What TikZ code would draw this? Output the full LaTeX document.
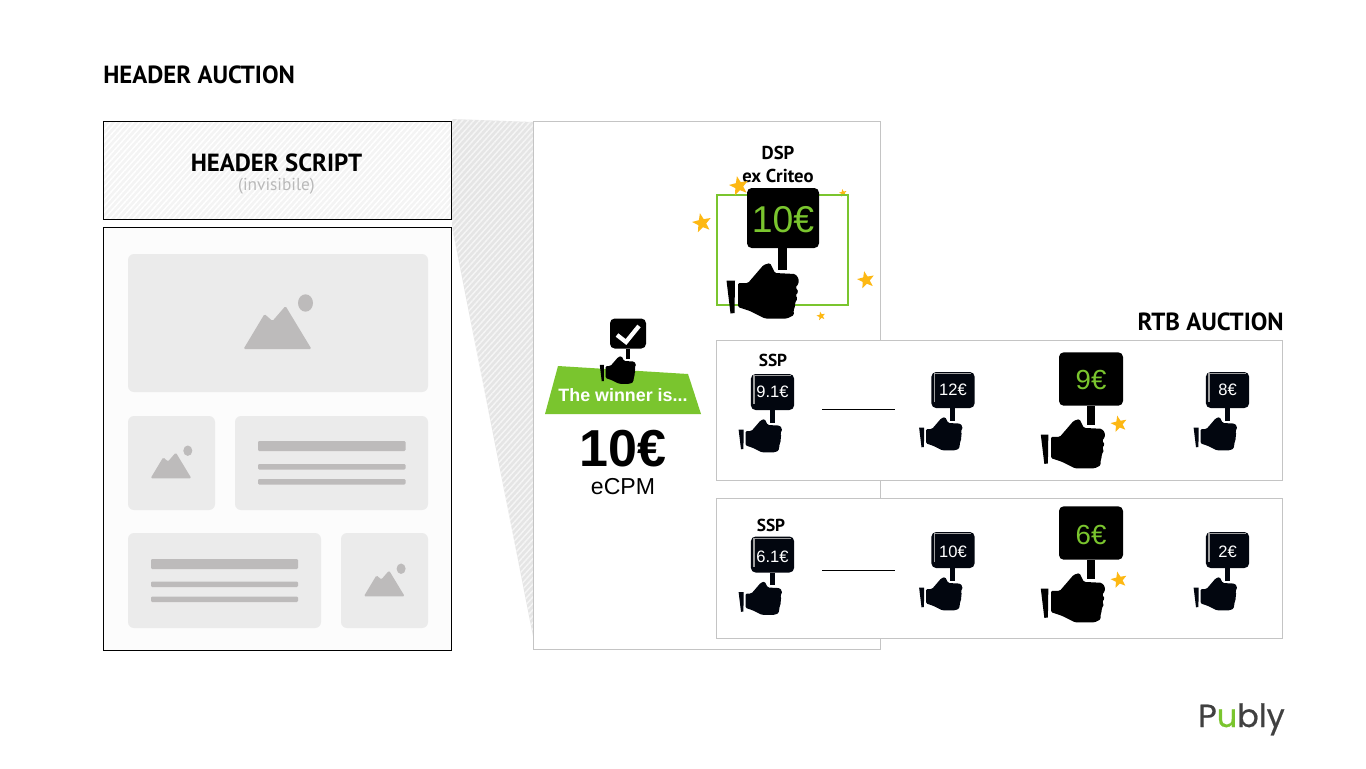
\documentclass[tikz,border=0pt]{standalone}
\usepackage{fontspec}
\setmainfont{Liberation Sans}
\newfontfamily\titlefont{PT Sans}
\newfontfamily\logofont[FakeBold=0.6]{Poppins}
\usetikzlibrary{patterns.meta}
\definecolor{pubgreen}{RGB}{122,197,46}
\definecolor{starcol}{RGB}{253,184,19}
\definecolor{boxline}{RGB}{196,196,196}
\definecolor{slotgray}{RGB}{235,235,235}
\definecolor{icongray}{RGB}{189,187,187}
\definecolor{bidink}{RGB}{2,6,15}
\tikzset{
    title/.style={font=\titlefont\bfseries\fontsize{18.6}{20}\selectfont, text=black, inner sep=0pt},
    sidetitle/.style={font=\titlefont\bfseries\fontsize{14}{15}\selectfont, text=black, inner sep=0pt},
    ssptitle/.style={font=\titlefont\bfseries\fontsize{13}{15}\selectfont, text=black, inner sep=0pt},
    slot/.style={fill=slotgray, rounded corners=4.5pt},
    bar/.style={fill=icongray, rounded corners=0.8pt},
    panel/.style={draw=boxline, fill=white, line width=0.75pt},
    star/.style={fill=starcol},
    bidtext/.style={inner sep=0pt},
    smallbid/.style={bidtext, text=white, font=\fontsize{12.4}{14}\selectfont},
    bigbid/.style={bidtext, text=pubgreen, font=\fontsize{20.7}{22}\selectfont},
}
% a bidder's hand holding up a sign, drawn around the centre of the sign
\tikzset{
    pics/bidhand/.style n args={2}{code={
        \fill[#1, rounded corners=3.5pt] (-36,-30) rectangle (36,30);
        \fill[#1] (-5,30) rectangle (4,51.5);
        \fill[#1] (-56.5,62.5) -- (-48,62.5) -- (-48.5,95) -- (-52.5,95.5) -- cycle;
        \fill[#1, rounded corners=1pt] (-45,65) -- (-35,65) -- (-19.5,47) -- (-13,45) -- (-8,55)
            -- (12,56) -- (15.5,60) -- (15.5,66) -- (12.5,69) -- (15.5,74) -- (12.5,77) -- (14.5,80.5)
            -- (12,85) -- (12,89) -- (10.5,92) -- (11,97) -- (4,100.5) -- (-18,100.5) -- (-33,93) -- (-45,89) -- cycle;
        #2
    }},
    pics/mountain/.style={code={
        \fill[icongray, rounded corners=1pt] (-34,20) -- (-13,-15) -- (-5,-8) -- (8,-23) -- (34,20) -- cycle;
        \fill[icongray] (28,-26) ellipse (7.5 and 8.7);
    }},
}
\newcommand{\pubstar}[3]{
    \fill[star, shift={(#1,#2)}, rotate=12] (-90:#3)
        \foreach \ang/\rr in {-54/0.42,-18/1,18/0.42,54/1,90/0.42,126/1,162/0.42,198/1,234/0.42} {
            -- (\ang:{#3*\rr})
        } -- cycle;
}
% sign shine of the smaller dark bidders
\newcommand{\shine}{\draw[gray!75, line width=0.9pt] (-31,20) -- (-31,-27) -- (30,-27);}

\begin{document}
\begin{tikzpicture}[x=0.75pt, y=-0.75pt]
    \useasboundingbox (0,0) rectangle (1366,768);

    \node[title, anchor=west] (maintitle) at (103,75) {HEADER AUCTION};

    % wedge between the script and the zoomed panel
    \fill[gray!20] (452,119) -- (533,122) -- (533,636) -- (452,227) -- cycle;
    \fill[pattern={Lines[angle=48,distance=3.2pt,line width=1.1pt]}, pattern color=gray!8]
        (452,119) -- (533,122) -- (533,636) -- (452,227) -- cycle;

    % page on the left
    \fill[gray!9] (103.5,121.5) rectangle (451.5,219);
    \fill[pattern={Lines[angle=48,distance=3.2pt,line width=1.1pt]}, pattern color=white]
        (103.5,121.5) rectangle (451.5,219);
    \draw[black, line width=0.75pt] (103.5,121.5) rectangle (451.5,219);
    \node[title] (script) at (276.5,163) {HEADER SCRIPT};
    \node[text=gray!55, inner sep=0pt, font=\titlefont\fontsize{13}{14}\selectfont] (invisible) at (276.5,186) {(invisibile)};

    \draw[black, fill=gray!2, line width=0.75pt] (103.5,227.5) rectangle (451.5,650);
    \fill[slot] (128,254) rectangle (428,392);
    \fill[slot] (128,416) rectangle (215,510);
    \fill[slot] (235,416) rectangle (428,510);
    \fill[slot] (128,533) rectangle (321,628);
    \fill[slot] (341,533) rectangle (428,628);

    \pic at (277.5,329) {mountain};
    \pic[scale=0.6] at (171,466.3) {mountain};
    \pic[scale=0.6] at (384.3,584.3) {mountain};

    \fill[bar] (258,441) rectangle (405.5,451);
    \fill[bar] (258,464) rectangle (405.5,469.5);
    \fill[bar] (258,479) rectangle (405.5,484.5);
    \fill[bar] (151,559) rectangle (298,569);
    \fill[bar] (151,581.5) rectangle (298,587);
    \fill[bar] (151,596.5) rectangle (298,602);

    % zoomed panel and the two auctions
    \draw[panel] (533.5,121.5) rectangle (880.5,649.5);
    \draw[panel] (716.5,340.5) rectangle (1282.5,480);
    \draw[panel] (716.5,498.5) rectangle (1282.5,638.5);

    \node[title, anchor=east] (rtb) at (1284,322) {RTB AUCTION};

    % DSP
    \node[sidetitle] (dsp) at (778,153) {DSP};
    \node[sidetitle] (criteo) at (778,176) {ex Criteo};
    \pubstar{843}{193}{4}
    \draw[pubgreen, line width=1.3pt] (717,195) rectangle (848,305);
    \pubstar{739}{186}{10}
    \pubstar{702}{223}{10}
    \pubstar{866}{280}{9}
    \pubstar{821}{316}{4.5}
    \pic at (783,218) {bidhand={black}{\node[bidtext, text=pubgreen, font=\fontsize{28}{30}\selectfont] (dspbid) at (0,2) {10€};}};

    % winner
    \fill[pubgreen] (558,366) -- (688,374) -- (701,414) -- (545,414) -- cycle;
    \pic[scale=0.5] at (628,333.5) {bidhand={black}{\draw[white, line width=3.2pt] (-22,3) -- (-4,17) -- (22,-15);}};
    \node[bidtext, text=white, font=\bfseries\fontsize{13.4}{15}\selectfont] (winner) at (623,395) {The winner is...};
    \node[bidtext, font=\bfseries\fontsize{39}{41}\selectfont] (price) at (623,449) {10€};
    \node[bidtext, font=\fontsize{17.3}{19}\selectfont] (ecpm) at (623,487) {eCPM};

    % first auction
    \node[ssptitle] (ssptop) at (773,360) {SSP};
    \pic[scale=0.6] at (772.5,392) {bidhand={bidink}{\shine\node[smallbid] (bida) at (0,0) {9.1€};}};
    \pic[scale=0.6] at (953,390) {bidhand={bidink}{\shine\node[smallbid] (bidb) at (0,0) {12€};}};
    \pic[scale=0.889] at (1091,379) {bidhand={black}{\node[bigbid] (bidc) at (0,1) {9€};}};
    \pic[scale=0.6] at (1227.5,390) {bidhand={bidink}{\shine\node[smallbid] (bidd) at (0,0) {8€};}};
    \pubstar{1119}{424}{8.5}
    \coordinate (linea) at (822,409.5);
    \coordinate (lineb) at (895,409.5);
    \draw[black, line width=0.75pt] (linea) -- (lineb);

    % second auction
    \node[ssptitle] (sspbot) at (771,525) {SSP};
    \pic[scale=0.6] at (772.5,554.5) {bidhand={bidink}{\shine\node[smallbid] (bide) at (0,4) {6.1€};}};
    \pic[scale=0.6] at (953,550) {bidhand={bidink}{\shine\node[smallbid] (bidf) at (0,3) {10€};}};
    \pic[scale=0.889] at (1091,533) {bidhand={black}{\node[bigbid] (bidg) at (0,2) {6€};}};
    \pic[scale=0.6] at (1227.5,550) {bidhand={bidink}{\shine\node[smallbid] (bidh) at (0,3) {2€};}};
    \pubstar{1119}{580}{8.5}
    \coordinate (linec) at (822,570.5);
    \coordinate (lined) at (895,570.5);
    \draw[black, line width=0.75pt] (linec) -- (lined);

    % logo
    \node[bidtext, anchor=base east, font=\logofont\fontsize{24}{26}\selectfont, text=black!75] (logo) at (1285,727) {P\textcolor{pubgreen}{u}bly};
\end{tikzpicture}
\end{document}
